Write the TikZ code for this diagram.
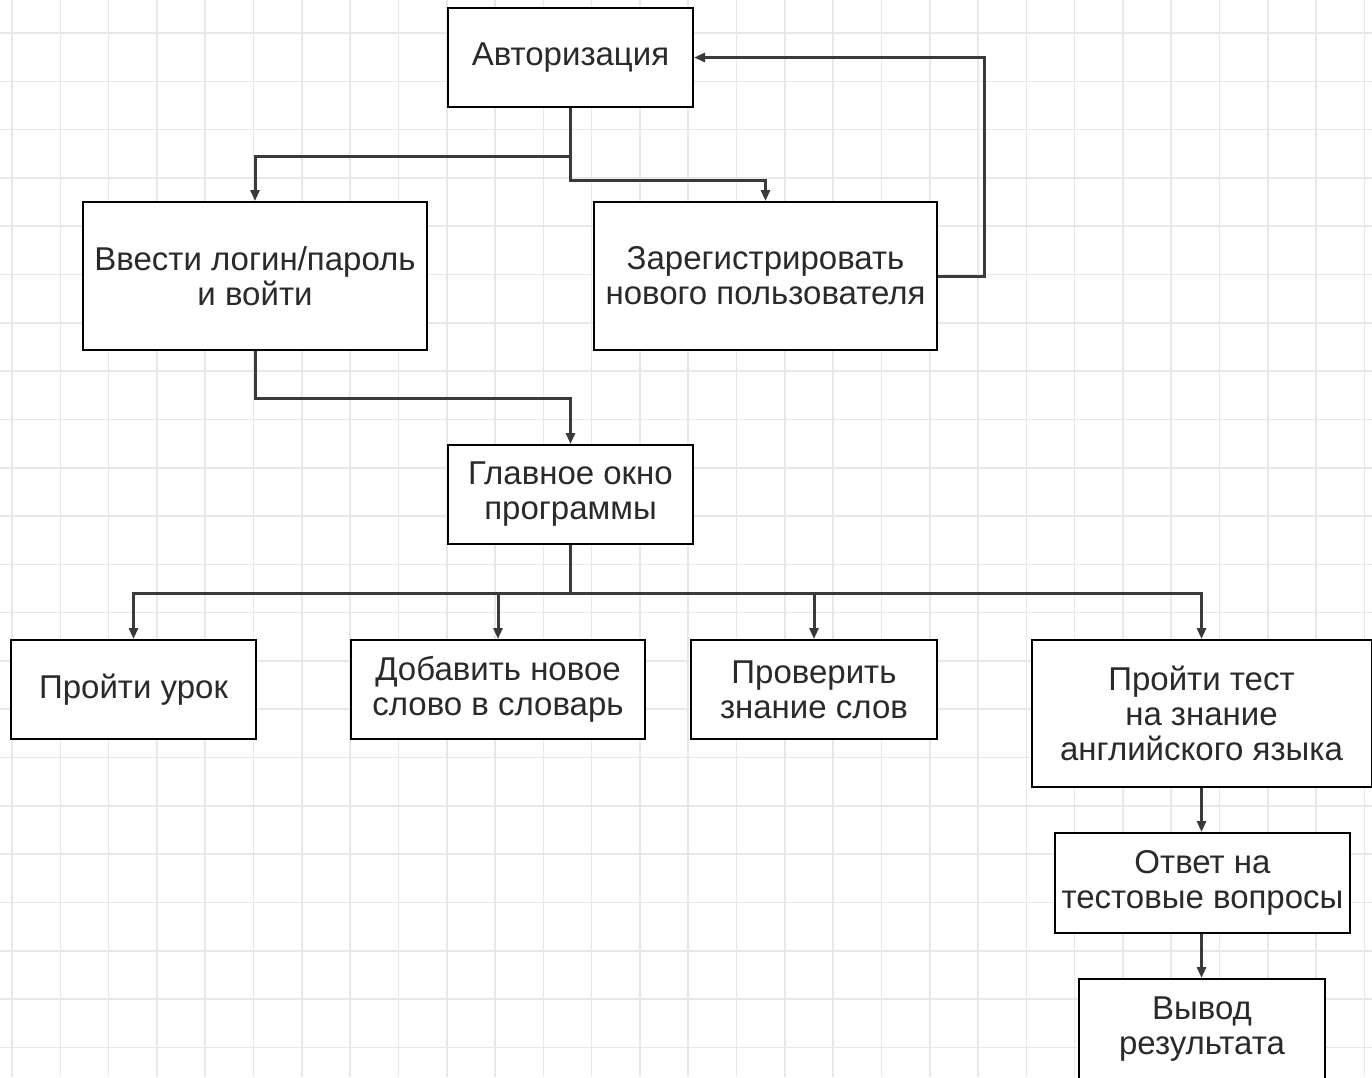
\documentclass[tikz,border=0pt]{standalone}
\usepackage{fontspec}
\setmainfont{Liberation Sans}
\usetikzlibrary{arrows.meta}
\definecolor{gridc}{HTML}{E8E8E8}
\definecolor{linec}{HTML}{3A3A3A}
\definecolor{txtc}{HTML}{2A2A2A}
\begin{document}
\begin{tikzpicture}[x=1pt,y=-1pt,
  box/.style={draw=black,line width=2pt,fill=white,inner sep=0pt,align=center,
    font=\fontsize{33}{35}\selectfont,text=txtc},
  conn/.style={draw=linec,line width=3pt,-{Triangle[length=11pt,width=9pt]}},
  gridline/.style={draw=gridc,line width=1.6pt}]
\useasboundingbox (0,0) rectangle (1372,1077);
\fill[white] (0,0) rectangle (1372,1077);
\foreach \i in {0,...,28} \draw[gridline] ({12+48.3*\i},0) -- ++(0,1077);
\foreach \j in {0,...,21} \draw[gridline] (0,{33+48.3*\j}) -- ++(1372,0);

\node[box,minimum width=245pt,minimum height=99pt] (auth) at (570.5,57.5) {Авторизация};
\node[box,minimum width=344pt,minimum height=148pt] (login) at (255,276) {Ввести логин/пароль\\и войти};
\node[box,minimum width=343pt,minimum height=148pt] (reg) at (765.5,276) {Зарегистрировать\\нового пользователя};
\node[box,minimum width=245pt,minimum height=99pt] (main) at (570.5,494.5) {Главное окно\\программы};
\node[box,minimum width=245pt,minimum height=99pt] (lesson) at (133.5,689.5) {Пройти урок};
\node[box,minimum width=294pt,minimum height=99pt] (addw) at (498,689.5) {Добавить новое\\слово в словарь};
\node[box,minimum width=246pt,minimum height=99pt] (check) at (814,689.5) {Проверить\\знание слов};
\node[box,minimum width=340pt,minimum height=147pt] (test) at (1201.5,713.5) {Пройти тест\\на знание\\английского языка};
\node[box,minimum width=295pt,minimum height=100pt] (answ) at (1202.5,883) {Ответ на\\тестовые вопросы};
\node[box,minimum width=246pt,minimum height=100pt] (res) at (1202,1029) {Вывод\\результата};

\draw[conn] (auth.south) -- ++(0,48) -| (login.north);
\draw[conn] (auth.south) -- ++(0,72) -| (reg.north);
\draw[conn] (reg.east) -- ++(46,0) |- (auth.east);
\draw[conn] (login.south) -- ++(0,47) -| (main.north);
\draw[conn] (main.south) -- ++(0,48) -| (lesson.north);
\draw[conn] (main.south) -- ++(0,48) -| (addw.north);
\draw[conn] (main.south) -- ++(0,48) -| (check.north);
\draw[conn] (main.south) -- ++(0,48) -| (test.north);
\draw[conn] (test.south) -- (test.south |- answ.north);
\draw[conn] (answ.south -| test.south) -- (test.south |- res.north);
\end{tikzpicture}
\end{document}
